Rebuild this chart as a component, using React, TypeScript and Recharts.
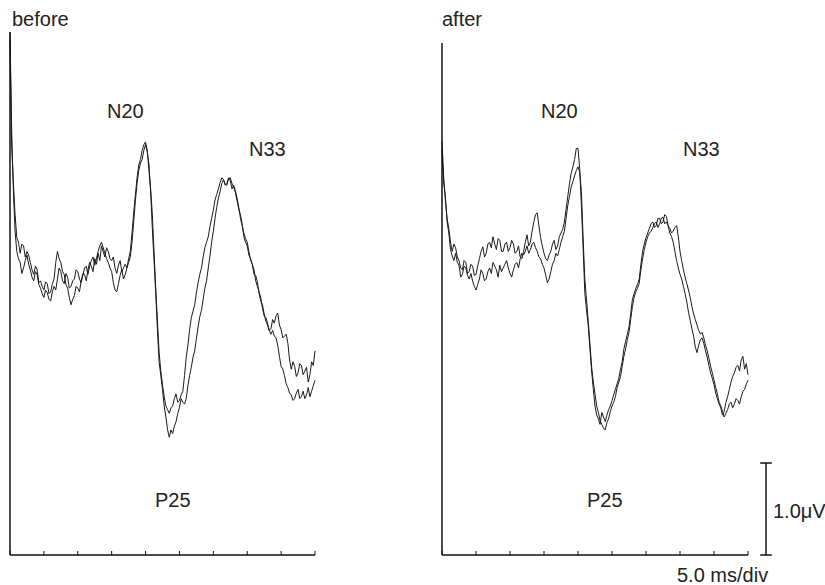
import React from 'react';
import { LineChart, Line, XAxis, YAxis, ReferenceLine } from 'recharts';

// time in ms (5 ms per division), sampled every 0.25 ms
const times = [
  0, 0.25, 0.5, 0.75, 1, 1.25, 1.5, 1.75, 2, 2.25, 2.5, 2.75, 3, 3.25, 3.5, 3.75, 4, 4.25, 4.5, 4.75,
  5, 5.25, 5.5, 5.75, 6, 6.25, 6.5, 6.75, 7, 7.25, 7.5, 7.75, 8, 8.25, 8.5, 8.75, 9, 9.25, 9.5, 9.75,
  10, 10.25, 10.5, 10.75, 11, 11.25, 11.5, 11.75, 12, 12.25, 12.5, 12.75, 13, 13.25, 13.5, 13.75, 14, 14.25, 14.5, 14.75,
  15, 15.25, 15.5, 15.75, 16, 16.25, 16.5, 16.75, 17, 17.25, 17.5, 17.75, 18, 18.25, 18.5, 18.75, 19, 19.25, 19.5, 19.75,
  20, 20.25, 20.5, 20.75, 21, 21.25, 21.5, 21.75, 22, 22.25, 22.5, 22.75, 23, 23.25, 23.5, 23.75, 24, 24.25, 24.5, 24.75,
  25, 25.25, 25.5, 25.75, 26, 26.25, 26.5, 26.75, 27, 27.25, 27.5, 27.75, 28, 28.25, 28.5, 28.75, 29, 29.25, 29.5, 29.75,
  30, 30.25, 30.5, 30.75, 31, 31.25, 31.5, 31.75, 32, 32.25, 32.5, 32.75, 33, 33.25, 33.5, 33.75, 34, 34.25, 34.5, 34.75,
  35, 35.25, 35.5, 35.75, 36, 36.25, 36.5, 36.75, 37, 37.25, 37.5, 37.75, 38, 38.25, 38.5, 38.75, 39, 39.25, 39.5, 39.75,
  40, 40.25, 40.5, 40.75, 41, 41.25, 41.5, 41.75, 42, 42.25, 42.5, 42.75, 43, 43.25, 43.5, 43.75, 44, 44.25, 44.5, 44.75,
  45,
];

// amplitudes in µV above the bottom axis
const beforeTrace1 = [
  5.60, 4.45, 4.05, 3.70, 3.45, 3.40, 3.28, 3.38, 3.36, 3.24, 3.30, 3.26, 3.18, 3.10, 3.05, 3.14, 3.10, 2.96, 2.98, 2.92,
  2.88, 2.97, 2.95, 2.84, 2.86, 2.95, 3.00, 3.18, 3.30, 3.22, 3.18, 3.08, 3.05, 2.94, 2.90, 2.80, 2.72, 2.78, 2.82, 2.92,
  2.90, 2.86, 2.98, 3.06, 3.05, 2.98, 3.10, 3.18, 3.14, 3.08, 3.22, 3.16, 3.28, 3.20, 3.36, 3.30, 3.24, 3.34, 3.30, 3.22,
  3.20, 3.24, 3.12, 3.06, 3.15, 3.20, 3.08, 3.12, 3.16, 3.12, 3.22, 3.30, 3.50, 3.72, 3.92, 4.10, 4.24, 4.30, 4.40, 4.46,
  4.49, 4.40, 4.18, 3.98, 3.70, 3.30, 2.90, 2.55, 2.20, 2.00, 1.85, 1.72, 1.62, 1.58, 1.54, 1.60, 1.62, 1.70, 1.75, 1.66,
  1.68, 1.74, 1.78, 1.95, 2.15, 2.28, 2.45, 2.58, 2.65, 2.72, 2.85, 2.96, 3.05, 3.12, 3.24, 3.34, 3.40, 3.46, 3.57, 3.66,
  3.75, 3.86, 3.92, 3.98, 4.05, 4.10, 4.08, 4.03, 4.02, 4.09, 4.10, 4.04, 4.00, 3.94, 3.85, 3.76, 3.70, 3.60, 3.46, 3.40,
  3.36, 3.26, 3.22, 3.16, 3.05, 3.04, 2.97, 2.84, 2.76, 2.72, 2.62, 2.54, 2.50, 2.44, 2.46, 2.56, 2.52, 2.60, 2.63, 2.50,
  2.45, 2.36, 2.38, 2.40, 2.30, 2.12, 2.02, 2.10, 2.05, 1.94, 1.98, 2.08, 2.06, 1.96, 2.00, 2.04, 1.88, 1.96, 2.10, 2.06,
  2.22,
];

const beforeTrace2 = [
  5.68, 4.60, 3.95, 3.52, 3.30, 3.22, 3.18, 3.06, 3.12, 3.20, 3.26, 3.16, 3.10, 3.02, 2.98, 3.08, 3.05, 2.94, 2.90, 2.84,
  2.80, 2.88, 2.85, 2.78, 2.76, 2.86, 2.92, 2.88, 3.00, 3.12, 3.08, 2.98, 2.95, 3.06, 3.02, 2.90, 2.92, 2.98, 3.00, 3.10,
  3.08, 3.00, 2.96, 3.04, 3.12, 3.14, 3.05, 3.14, 3.20, 3.24, 3.15, 3.22, 3.30, 3.36, 3.40, 3.34, 3.28, 3.22, 3.18, 3.12,
  3.08, 2.96, 2.88, 2.86, 2.95, 3.04, 3.10, 3.00, 3.05, 3.12, 3.18, 3.24, 3.40, 3.62, 3.85, 4.04, 4.18, 4.26, 4.30, 4.40,
  4.46, 4.38, 4.25, 3.95, 3.55, 3.20, 2.85, 2.45, 2.10, 1.95, 1.80, 1.62, 1.50, 1.36, 1.28, 1.36, 1.32, 1.40, 1.45, 1.54,
  1.60, 1.70, 1.66, 1.64, 1.70, 1.84, 1.95, 2.04, 2.15, 2.22, 2.35, 2.48, 2.59, 2.66, 2.78, 2.90, 2.98, 3.12, 3.25, 3.40,
  3.52, 3.66, 3.78, 3.88, 3.95, 4.04, 4.08, 4.02, 4.04, 4.10, 4.07, 3.98, 4.02, 3.96, 3.88, 3.78, 3.66, 3.58, 3.50, 3.44,
  3.40, 3.30, 3.20, 3.16, 3.10, 2.98, 2.92, 2.86, 2.80, 2.68, 2.60, 2.58, 2.52, 2.44, 2.40, 2.44, 2.38, 2.36, 2.28, 2.16,
  2.05, 2.02, 1.95, 1.86, 1.82, 1.76, 1.74, 1.68, 1.70, 1.76, 1.80, 1.70, 1.72, 1.78, 1.70, 1.74, 1.82, 1.72, 1.78, 1.84,
  1.90,
];

const afterTrace1 = [
  4.50, 4.10, 3.85, 3.66, 3.55, 3.40, 3.30, 3.38, 3.34, 3.24, 3.20, 3.12, 3.10, 3.20, 3.18, 3.06, 3.08, 3.16, 3.14, 3.04,
  3.05, 3.14, 3.22, 3.30, 3.35, 3.24, 3.28, 3.38, 3.40, 3.34, 3.46, 3.38, 3.32, 3.44, 3.42, 3.30, 3.30, 3.38, 3.40, 3.30,
  3.34, 3.42, 3.38, 3.28, 3.30, 3.36, 3.24, 3.22, 3.30, 3.40, 3.48, 3.36, 3.40, 3.52, 3.62, 3.70, 3.72, 3.58, 3.45, 3.36,
  3.28, 3.22, 3.20, 3.26, 3.30, 3.38, 3.42, 3.32, 3.36, 3.46, 3.50, 3.54, 3.62, 3.76, 3.90, 4.04, 4.15, 4.22, 4.30, 4.42,
  4.42, 4.20, 3.80, 3.35, 2.85, 2.66, 2.50, 2.25, 2.00, 1.80, 1.62, 1.52, 1.48, 1.42, 1.55, 1.50, 1.45, 1.52, 1.58, 1.62,
  1.68, 1.74, 1.80, 1.86, 1.92, 2.02, 2.10, 2.24, 2.32, 2.40, 2.48, 2.62, 2.78, 2.84, 2.90, 2.94, 3.00, 3.16, 3.30, 3.38,
  3.45, 3.50, 3.55, 3.60, 3.62, 3.56, 3.58, 3.66, 3.66, 3.60, 3.62, 3.70, 3.68, 3.58, 3.50, 3.46, 3.40, 3.30, 3.20, 3.12,
  3.05, 3.00, 2.92, 2.84, 2.75, 2.64, 2.55, 2.46, 2.38, 2.26, 2.20, 2.28, 2.34, 2.36, 2.30, 2.22, 2.15, 2.06, 1.98, 1.92,
  1.85, 1.76, 1.70, 1.64, 1.60, 1.52, 1.56, 1.66, 1.72, 1.80, 1.88, 1.94, 1.98, 2.04, 2.06, 2.00, 2.12, 2.16, 2.02, 2.08,
  1.96,
];

const afterTrace2 = [
  4.40, 4.05, 3.90, 3.62, 3.50, 3.32, 3.25, 3.20, 3.28, 3.18, 3.15, 3.02, 3.05, 3.14, 3.12, 3.04, 3.00, 3.06, 2.98, 2.92,
  2.88, 2.94, 3.00, 3.10, 3.06, 2.98, 3.00, 3.08, 3.12, 3.06, 3.18, 3.14, 3.10, 3.02, 3.15, 3.08, 3.12, 3.16, 3.20, 3.12,
  3.06, 3.02, 3.10, 3.16, 3.18, 3.12, 3.22, 3.28, 3.26, 3.30, 3.36, 3.28, 3.32, 3.38, 3.40, 3.34, 3.30, 3.24, 3.22, 3.16,
  3.12, 3.04, 2.96, 3.00, 3.08, 3.16, 3.20, 3.28, 3.25, 3.32, 3.40, 3.46, 3.52, 3.66, 3.80, 3.90, 4.00, 4.06, 4.12, 4.18,
  4.22, 4.16, 3.95, 3.45, 3.00, 2.78, 2.55, 2.30, 2.05, 1.88, 1.75, 1.62, 1.55, 1.46, 1.42, 1.38, 1.36, 1.44, 1.48, 1.56,
  1.62, 1.66, 1.72, 1.82, 1.88, 1.94, 2.05, 2.16, 2.24, 2.34, 2.42, 2.56, 2.70, 2.80, 2.86, 2.90, 2.95, 3.10, 3.22, 3.32,
  3.40, 3.46, 3.50, 3.52, 3.56, 3.60, 3.62, 3.56, 3.60, 3.66, 3.67, 3.60, 3.62, 3.58, 3.55, 3.50, 3.52, 3.56, 3.58, 3.46,
  3.30, 3.20, 3.10, 3.02, 2.95, 2.88, 2.80, 2.70, 2.62, 2.56, 2.50, 2.44, 2.40, 2.42, 2.36, 2.28, 2.22, 2.14, 2.05, 1.98,
  1.90, 1.82, 1.75, 1.66, 1.62, 1.56, 1.50, 1.54, 1.58, 1.64, 1.66, 1.60, 1.64, 1.70, 1.68, 1.64, 1.72, 1.78, 1.80, 1.86,
  1.90,
];

const xTicks = [0, 5, 10, 15, 20, 25, 30, 35, 40, 45];

// scale bar: 1.0 µV, drawn just right of the "after" panel
const scaleBarTime = 47.65;
const scaleBarCap = [46.8, 48.5];
const scaleBarAmp = [0, 1.0];

const FONT = '"Liberation Sans", Arial, Helvetica, sans-serif';
const INK = '#1a1a1a';

const beforeData = times.map((t, i) => ({ t, r1: beforeTrace1[i], r2: beforeTrace2[i] }));
const afterData = times.map((t, i) => ({ t, r1: afterTrace1[i], r2: afterTrace2[i] }));

const axisStyle = { stroke: '#111', strokeWidth: 1.5 };

const NoLabel = () => <g />;

export default function App() {
  return (
    <div
      style={{
        position: 'absolute',
        left: 0,
        top: 0,
        width: 825,
        height: 585,
        background: '#fff',
        overflow: 'hidden',
      }}
    >
      <div style={{ position: 'absolute', left: 0, top: 0 }}>
        <LineChart
          width={330}
          height={585}
          data={beforeData}
          margin={{ top: 32, right: 15, bottom: 0, left: 9 }}
        >
          <XAxis
            dataKey="t"
            type="number"
            domain={[0, 45]}
            ticks={xTicks}
            tick={<NoLabel />}
            tickSize={-4}
            height={30}
            axisLine={axisStyle}
            tickLine={{ stroke: '#111', strokeWidth: 1 }}
          />
          <YAxis
            type="number"
            domain={[0, 5.685]}
            width={1}
            tick={false}
            tickLine={false}
            axisLine={axisStyle}
          />
          <Line dataKey="r1" type="linear" stroke={INK} strokeWidth={1} dot={false} isAnimationActive={false} />
          <Line dataKey="r2" type="linear" stroke={INK} strokeWidth={1} dot={false} isAnimationActive={false} />
        </LineChart>
      </div>

      <div style={{ position: 'absolute', left: 430, top: 0 }}>
        <LineChart
          width={395}
          height={585}
          data={afterData}
          margin={{ top: 43, right: 77, bottom: 0, left: 11 }}
        >
          <XAxis
            dataKey="t"
            type="number"
            domain={[0, 45]}
            ticks={xTicks}
            tick={<NoLabel />}
            tickSize={-4}
            height={30}
            axisLine={axisStyle}
            tickLine={{ stroke: '#111', strokeWidth: 1 }}
          />
          <YAxis
            type="number"
            domain={[0, 5.565]}
            width={1}
            tick={false}
            tickLine={false}
            axisLine={axisStyle}
          />
          <Line dataKey="r1" type="linear" stroke={INK} strokeWidth={1} dot={false} isAnimationActive={false} />
          <Line dataKey="r2" type="linear" stroke={INK} strokeWidth={1} dot={false} isAnimationActive={false} />
          <ReferenceLine
            segment={[
              { x: scaleBarTime, y: scaleBarAmp[0] },
              { x: scaleBarTime, y: scaleBarAmp[1] },
            ]}
            ifOverflow="visible"
            stroke="#111"
            strokeWidth={1.5}
          />
          <ReferenceLine
            segment={[
              { x: scaleBarCap[0], y: scaleBarAmp[1] },
              { x: scaleBarCap[1], y: scaleBarAmp[1] },
            ]}
            ifOverflow="visible"
            stroke="#111"
            strokeWidth={1.5}
          />
          <ReferenceLine
            segment={[
              { x: scaleBarCap[0], y: scaleBarAmp[0] },
              { x: scaleBarCap[1], y: scaleBarAmp[0] },
            ]}
            ifOverflow="visible"
            stroke="#111"
            strokeWidth={1.5}
          />
        </LineChart>
      </div>

      <svg
        width={825}
        height={585}
        style={{ position: 'absolute', left: 0, top: 0, pointerEvents: 'none' }}
      >
        <g fontFamily={FONT} fontSize={20} fill="#222">
          <text x={12} y={26}>before</text>
          <text x={442} y={26}>after</text>
          <text x={107} y={118}>N20</text>
          <text x={249} y={156}>N33</text>
          <text x={155} y={507}>P25</text>
          <text x={541} y={118}>N20</text>
          <text x={683} y={156}>N33</text>
          <text x={587} y={507}>P25</text>
          <text x={773} y={518}>1.0μV</text>
          <text x={677} y={582}>5.0 ms/div</text>
        </g>
      </svg>
    </div>
  );
}
